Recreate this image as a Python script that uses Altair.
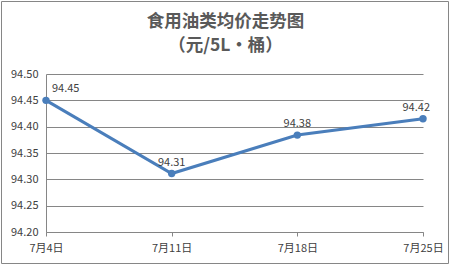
import altair as alt
import pandas as pd

dates = ["7月4日", "7月11日", "7月18日", "7月25日"]
prices = [94.45, 94.311, 94.384, 94.415]
y_ticks = [94.20, 94.25, 94.30, 94.35, 94.40, 94.45, 94.50]

df = pd.DataFrame({"date": dates, "price": prices, "idx": list(range(len(dates)))})

FONT = "Noto Sans CJK SC"
LINE_C = "#4A7EBB"
TXT_C = "#404040"

x_enc = alt.X("date:N", sort=dates,
              scale=alt.Scale(type="point", padding=0),
              axis=alt.Axis(title=None, labelAngle=0, labelFont=FONT, labelFontSize=11,
                            labelColor=TXT_C, domainColor="#868686", tickColor="#868686",
                            tickSize=4, labelPadding=6, grid=False))
y_enc = alt.Y("price:Q", scale=alt.Scale(domain=[94.20, 94.50], nice=False, zero=False),
              axis=alt.Axis(title=None, values=y_ticks, format=".2f", labelFont=FONT,
                            labelFontSize=11, labelColor=TXT_C, ticks=False, labelPadding=8,
                            domainColor="#868686", gridColor="#868686", gridWidth=1))

base = alt.Chart(df)

line = base.mark_line(color=LINE_C, strokeWidth=3).encode(x=x_enc, y=y_enc)
pts = base.mark_point(filled=True, color=LINE_C, size=55, opacity=1).encode(x=x_enc, y=y_enc)

txt_kw = dict(font=FONT, fontSize=11, color=TXT_C, baseline="bottom", dy=-6)
lab_mid = base.transform_filter("datum.idx > 0 && datum.idx < 3").mark_text(align="center", **txt_kw).encode(
    x=x_enc, y=y_enc, text=alt.Text("price:Q", format=".2f"))
lab_first = base.transform_filter("datum.idx == 0").mark_text(align="left", dx=6, **txt_kw).encode(
    x=x_enc, y=y_enc, text=alt.Text("price:Q", format=".2f"))
lab_last = base.transform_filter("datum.idx == 3").mark_text(align="right", dx=7, **txt_kw).encode(
    x=x_enc, y=y_enc, text=alt.Text("price:Q", format=".2f"))

frame = alt.Chart(pd.DataFrame({"a": [0]})).mark_rect(
    fill=None, stroke="#868686", strokeWidth=1).encode(
    x=alt.value(-44.5), x2=alt.value(402.5), y=alt.value(-72.5), y2=alt.value(189.5))

chart = alt.layer(frame, line, pts, lab_mid, lab_first, lab_last).properties(
    width=377, height=158,
    title=alt.TitleParams(text=["食用油类均价走势图", "（元/5L·桶）"], font=FONT, fontSize=17.5,
                          fontWeight="bold", color="#595959", anchor="middle", dx=-9,
                          frame="group", offset=-53, lineHeight=24),
    autosize=alt.AutoSizeParams(type="none"),
    padding={"left": 46, "top": 74, "right": 28, "bottom": 33},
    background="white",
).configure_view(stroke=None)

chart.save("out.html", embed_options={"renderer": "svg", "actions": False})
